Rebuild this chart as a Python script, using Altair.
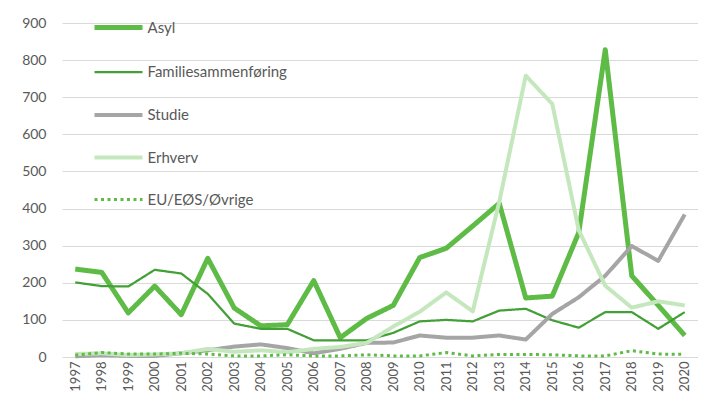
import altair as alt
import pandas as pd

years = [str(y) for y in range(1997, 2021)]
series = ["Asyl", "Familiesammenføring", "Studie", "Erhverv", "EU/EØS/Øvrige"]

asyl = [237, 228, 119, 191, 114, 266, 132, 84, 87, 206, 52, 104, 139, 268, 293, 353, 414, 159, 164, 335, 828, 219, 139, 58]
familie = [201, 191, 190, 235, 225, 170, 90, 76, 76, 45, 45, 45, 65, 96, 100, 96, 125, 130, 99, 79, 121, 121, 76, 121]
studie = [2, 5, 3, 3, 10, 18, 28, 34, 24, 10, 22, 38, 39, 58, 52, 52, 58, 47, 116, 161, 219, 299, 259, 384]
erhverv = [8, 10, 5, 7, 10, 22, 14, 18, 13, 22, 27, 38, 82, 122, 174, 123, 418, 758, 682, 342, 192, 133, 150, 139]
eu = [5, 12, 8, 8, 10, 8, 3, 3, 6, 3, 3, 6, 3, 3, 12, 3, 7, 7, 6, 3, 3, 17, 8, 7]

colors = ["#5DBB46", "#43A037", "#A5A5A5", "#C5E7BE", "#5DBB46"]
widths = [5, 2.25, 4, 4, 3]
dashes = [[1, 0], [1, 0], [1, 0], [1, 0], [3, 3.5]]

values = [asyl, familie, studie, erhverv, eu]
rows = []
for s, vals in zip(series, values):
    for y, v in zip(years, vals):
        rows.append({"year": y, "value": v, "serie": s})
df = pd.DataFrame(rows)

FONT = "Lato"
GREY = "#595959"

legend = alt.Legend(
    title=None,
    orient="none",
    legendX=30,
    legendY=-10,
    direction="vertical",
    symbolType="M-1,0H3",
    symbolSize=576,
    labelOffset=26.5,
    rowPadding=20.5,
    labelFont=FONT,
    labelFontSize=15,
    labelColor=GREY,
    padding=0,
)

chart = alt.Chart(df).mark_line(strokeJoin="round").encode(
    x=alt.X(
        "year:O",
        sort=years,
        scale=alt.Scale(type="point", padding=0.5),
        axis=alt.Axis(
            title=None, labelAngle=-90, labelFont=FONT, labelFontSize=13,
            labelColor=GREY, labelPadding=4, domain=False, ticks=False,
            grid=False, minExtent=33, maxExtent=33,
        ),
    ),
    y=alt.Y(
        "value:Q",
        scale=alt.Scale(domain=[0, 900], nice=False),
        axis=alt.Axis(
            title=None, values=list(range(0, 1000, 100)), grid=True,
            gridColor="#D9D9D9", gridWidth=1, domain=False, ticks=False,
            labelFont=FONT, labelFontSize=14, labelColor=GREY,
            labelPadding=16, minExtent=41, maxExtent=41,
        ),
    ),
    color=alt.Color("serie:N", scale=alt.Scale(domain=series, range=colors), legend=legend),
    strokeWidth=alt.StrokeWidth("serie:N", scale=alt.Scale(type="ordinal", domain=series, range=widths), legend=legend),
    strokeDash=alt.StrokeDash("serie:N", scale=alt.Scale(domain=series, range=dashes), legend=legend),
).properties(
    width=636,
    height=334,
    padding={"left": 13, "top": 5, "right": 0, "bottom": 0},
).configure_view(stroke=None)

chart.save("out.html", embed_options={"renderer": "svg", "actions": False})
